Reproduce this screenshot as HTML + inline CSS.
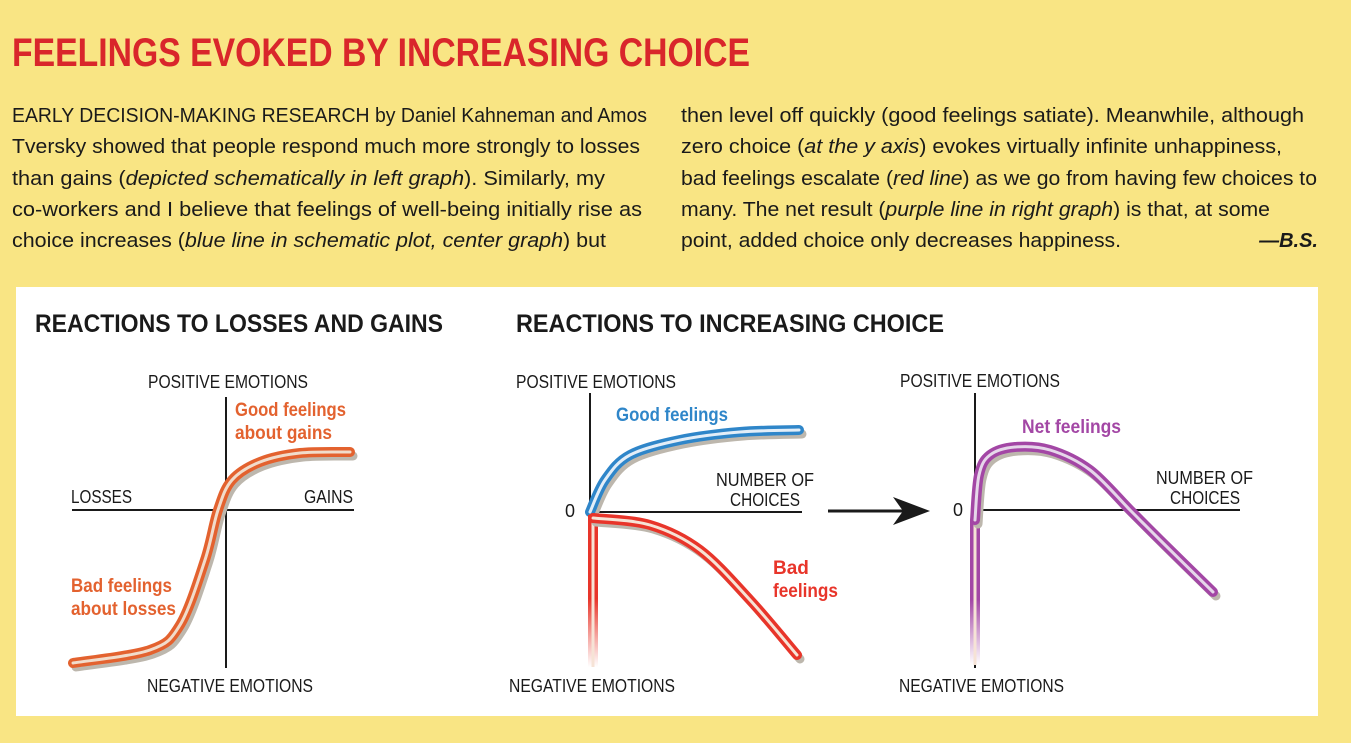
<!DOCTYPE html>
<html><head><meta charset="utf-8"><style>
html,body{margin:0;padding:0;background:#f9e584;}
svg{display:block;font-family:"Liberation Sans Narrow","Liberation Sans",sans-serif;}
</style></head><body>
<svg id="fig" width="1351" height="743" viewBox="0 0 1351 743">
<defs>
<linearGradient id="fadeRed" x1="0" y1="0" x2="0" y2="1"><stop offset="0.55" stop-color="#e8352a"/><stop offset="1" stop-color="#e8352a" stop-opacity="0"/></linearGradient>
<linearGradient id="fadePurple" x1="0" y1="0" x2="0" y2="1"><stop offset="0.55" stop-color="#a347a5"/><stop offset="1" stop-color="#a347a5" stop-opacity="0"/></linearGradient>
</defs>
<rect x="0" y="0" width="1351" height="743" fill="#f9e584"/>
<text x="12" y="66" font-size="40" font-weight="bold" fill="#d9262b" textLength="738" lengthAdjust="spacingAndGlyphs">FEELINGS EVOKED BY INCREASING CHOICE</text>
<g font-size="20" fill="#1a1a1a">
<text x="12" y="122" textLength="635" lengthAdjust="spacingAndGlyphs">EARLY DECISION-MAKING RESEARCH by Daniel Kahneman and Amos</text>
<text x="12" y="153" textLength="628" lengthAdjust="spacingAndGlyphs">Tversky showed that people respond much more strongly to losses</text>
<text x="12" y="185" textLength="593" lengthAdjust="spacingAndGlyphs">than gains (<tspan font-style="italic">depicted schematically in left graph</tspan>). Similarly, my</text>
<text x="12" y="216" textLength="630" lengthAdjust="spacingAndGlyphs">co-workers and I believe that feelings of well-being initially rise as</text>
<text x="12" y="247" textLength="594" lengthAdjust="spacingAndGlyphs">choice increases (<tspan font-style="italic">blue line in schematic plot, center graph</tspan>) but</text>
<text x="681" y="122" textLength="623" lengthAdjust="spacingAndGlyphs">then level off quickly (good feelings satiate). Meanwhile, although</text>
<text x="681" y="153" textLength="601" lengthAdjust="spacingAndGlyphs">zero choice (<tspan font-style="italic">at the y axis</tspan>) evokes virtually infinite unhappiness,</text>
<text x="681" y="185" textLength="636" lengthAdjust="spacingAndGlyphs">bad feelings escalate (<tspan font-style="italic">red line</tspan>) as we go from having few choices to</text>
<text x="681" y="216" textLength="589" lengthAdjust="spacingAndGlyphs">many. The net result (<tspan font-style="italic">purple line in right graph</tspan>) is that, at some</text>
<text x="681" y="247" textLength="440" lengthAdjust="spacingAndGlyphs">point, added choice only decreases happiness.</text>
<text x="1318" y="247" text-anchor="end" font-style="italic" font-weight="bold">—B.S.</text>
</g>
<rect x="16" y="287" width="1302" height="429" fill="#ffffff"/>
<text x="35" y="332" font-size="25" font-weight="bold" fill="#1a1a1a" textLength="408" lengthAdjust="spacingAndGlyphs">REACTIONS TO LOSSES AND GAINS</text>
<text x="516" y="332" font-size="25" font-weight="bold" fill="#1a1a1a" textLength="428" lengthAdjust="spacingAndGlyphs">REACTIONS TO INCREASING CHOICE</text>

<g stroke="#1a1a1a" stroke-width="2">
<line x1="226" y1="397" x2="226" y2="668"/>
<line x1="72" y1="510" x2="354" y2="510"/>
<line x1="590" y1="393" x2="590" y2="512"/>
<line x1="590" y1="512" x2="802" y2="512"/>
<line x1="975" y1="393" x2="975" y2="668"/>
<line x1="975" y1="510" x2="1240" y2="510"/>
<line x1="828" y1="511" x2="905" y2="511" stroke-width="3"/>
</g>
<path d="M930,511 L893,497 L903,511 L893,525 Z" fill="#1a1a1a"/>

<g font-size="18" fill="#1a1a1a">
<text x="148" y="388" textLength="160" lengthAdjust="spacingAndGlyphs">POSITIVE EMOTIONS</text>
<text x="71" y="503" textLength="61" lengthAdjust="spacingAndGlyphs">LOSSES</text>
<text x="304" y="503" textLength="49" lengthAdjust="spacingAndGlyphs">GAINS</text>
<text x="147" y="692" textLength="166" lengthAdjust="spacingAndGlyphs">NEGATIVE EMOTIONS</text>
<text x="516" y="388" textLength="160" lengthAdjust="spacingAndGlyphs">POSITIVE EMOTIONS</text>
<text x="716" y="486" textLength="98" lengthAdjust="spacingAndGlyphs">NUMBER OF</text>
<text x="730" y="506" textLength="70" lengthAdjust="spacingAndGlyphs">CHOICES</text>
<text x="565" y="517">0</text>
<text x="509" y="692" textLength="166" lengthAdjust="spacingAndGlyphs">NEGATIVE EMOTIONS</text>
<text x="900" y="387" textLength="160" lengthAdjust="spacingAndGlyphs">POSITIVE EMOTIONS</text>
<text x="1156" y="484" textLength="97" lengthAdjust="spacingAndGlyphs">NUMBER OF</text>
<text x="1170" y="504" textLength="70" lengthAdjust="spacingAndGlyphs">CHOICES</text>
<text x="953" y="516">0</text>
<text x="899" y="692" textLength="165" lengthAdjust="spacingAndGlyphs">NEGATIVE EMOTIONS</text>
</g>
<g font-size="19" font-weight="bold">
<text x="235" y="416" fill="#e3622f" textLength="111" lengthAdjust="spacingAndGlyphs">Good feelings</text>
<text x="235" y="439" fill="#e3622f" textLength="97" lengthAdjust="spacingAndGlyphs">about gains</text>
<text x="71" y="592" fill="#e3622f" textLength="101" lengthAdjust="spacingAndGlyphs">Bad feelings</text>
<text x="71" y="615" fill="#e3622f" textLength="105" lengthAdjust="spacingAndGlyphs">about losses</text>
<text x="616" y="421" fill="#2f86c9" textLength="112" lengthAdjust="spacingAndGlyphs">Good feelings</text>
<text x="773" y="574" fill="#e8352a">Bad</text>
<text x="773" y="597" fill="#e8352a" textLength="65" lengthAdjust="spacingAndGlyphs">feelings</text>
<text x="1022" y="433" fill="#a347a5" textLength="99" lengthAdjust="spacingAndGlyphs">Net feelings</text>
</g>
<g id="curves"></g>
</svg>
<script>
// data values relative to each chart's origin (x: choice/gain units, y: emotion units, up positive)
const lossGainX = [-153, -76, -46, -21, -8, 6, 34, 74, 124];
const lossGainY = [-153, -140, -115, -50, 0, 30, 48, 57, 58];
const goodX = [0, 15, 40, 90, 150, 209];
const goodY = [0, 32, 57, 72, 80, 82];
const badX = [3, 60, 110, 160, 207];
const badY = [-6, -13, -38, -88, -143];
const badAxisY = [-3, -155];
const netX = [0, 0, 4, 15, 40, 75, 115, 155, 185, 238];
const netY = [-155, -10, 35, 55, 63, 60, 40, 0, -30, -82];

function axis(ox, oy){ return { x: v => ox + v, y: v => oy - v }; }
const aL = axis(226, 510), aC = axis(590, 512), aR = axis(975, 510);

function smooth(pts){
  let d = 'M' + pts[0][0] + ',' + pts[0][1];
  for (let i = 0; i < pts.length - 1; i++){
    const p0 = pts[Math.max(0,i-1)], p1 = pts[i], p2 = pts[i+1], p3 = pts[Math.min(pts.length-1,i+2)];
    const c1 = [p1[0] + (p2[0]-p0[0])/6, p1[1] + (p2[1]-p0[1])/6];
    const c2 = [p2[0] - (p3[0]-p1[0])/6, p2[1] - (p3[1]-p1[1])/6];
    d += ' C' + c1.join(',') + ' ' + c2.join(',') + ' ' + p2.join(',');
  }
  return d;
}
const g = document.getElementById('curves');
const NS = 'http://www.w3.org/2000/svg';
function drawCurve(name, xs, ys, ax, color, inner){
  const pts = xs.map((v,i) => [ax.x(v), ax.y(ys[i])]);
  const d = smooth(pts);
  const grp = document.createElementNS(NS, 'g');
  
  
  [['#bdb7ad', 9, 3, 4], [color, 10, 0, 0], [inner, 3, 0, 0]].forEach(s => {
    const p = document.createElementNS(NS, 'path');
    
    
    p.setAttribute('d', d);
    p.setAttribute('fill', 'none');
    p.setAttribute('stroke', s[0]);
    p.setAttribute('stroke-width', s[1]);
    p.setAttribute('stroke-linecap', 'round');
    p.setAttribute('stroke-linejoin', 'round');
    if (s[2]) p.setAttribute('transform', 'translate(' + s[2] + ',' + s[3] + ')');
    grp.appendChild(p);
  });
  g.appendChild(grp);
}
function drawFade(name, ax, x, y0, y1, grad){
  const grp = document.createElementNS(NS, 'g');
  
  
  [[10, 'url(#' + grad + ')'], [3, '#f6e3d6']].forEach(s => {
    const r = document.createElementNS(NS, 'rect');
    
    
    r.setAttribute('x', ax.x(x) - s[0]/2);
    r.setAttribute('y', ax.y(y0));
    r.setAttribute('width', s[0]);
    r.setAttribute('height', ax.y(y1) - ax.y(y0));
    r.setAttribute('fill', s[1]);
    grp.appendChild(r);
  });
  g.appendChild(grp);
}
drawCurve('loss-gain-curve', lossGainX, lossGainY, aL, '#e3622f', '#f1dccb');
drawCurve('good-feelings-curve', goodX, goodY, aC, '#2f86c9', '#e3eef8');
drawFade('bad-feelings-axis-line', aC, 3, badAxisY[0], badAxisY[1], 'fadeRed');
drawCurve('bad-feelings-curve', badX, badY, aC, '#e8352a', '#f6e3d6');
drawFade('net-feelings-axis-line', aR, 0, netY[1], netY[0], 'fadePurple');
drawCurve('net-feelings-curve', netX.slice(1), netY.slice(1), aR, '#a347a5', '#e6d7ea');
</script>
</body></html>
